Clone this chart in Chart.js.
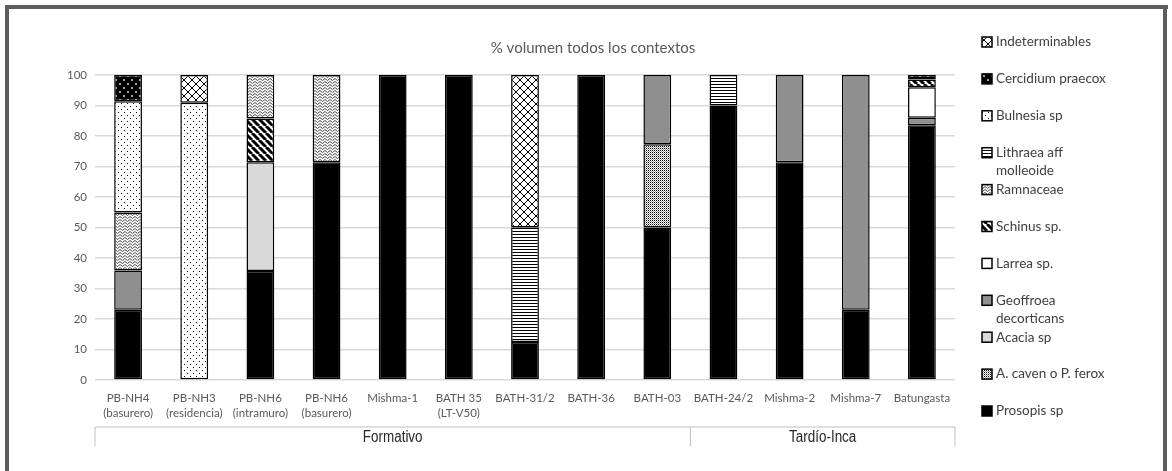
<!DOCTYPE html>
<html>
<head>
<meta charset="utf-8">
<script src="https://cdn.jsdelivr.net/npm/chart.js@4.4.0/dist/chart.umd.min.js"></script>
<style>
  html, body { margin: 0; background: #fff; }
  #wrap { width: 1172px; height: 471px; position: relative; }
</style>
</head>
<body>
<div id="wrap"><canvas id="chart"></canvas></div>
<script>
  // ---- data ----
  const TITLE = '% volumen todos los contextos';
  const CATEGORIES = [
    ['PB-NH4', '(basurero)'], ['PB-NH3', '(residencia)'], ['PB-NH6', '(intramuro)'],
    ['PB-NH6', '(basurero)'], 'Mishma-1', ['BATH 35', '(LT-V50)'], 'BATH-31/2',
    'BATH-36', 'BATH-03', 'BATH-24/2', 'Mishma-2', 'Mishma-7', 'Batungasta'
  ];
  const GROUPS = ['Formativo', 'Tardío-Inca'];
  const GROUP_SIZES = [9, 4];
  const Y_MAX = 100;
  const Y_STEP = 10;

  // series, bottom of the stack first
  const SERIES_NAMES = [
    'Prosopis sp', 'A. caven o P. ferox', 'Acacia sp', 'Geoffroea\ndecorticans', 'Larrea sp.',
    'Schinus sp.', 'Ramnaceae', 'Lithraea aff\nmolleoide', 'Bulnesia sp', 'Cercidium praecox', 'Indeterminables'
  ];
  const PROSOPIS     = [23, null, 35.7, 71.4, 100, 100, 12.5, 100, 50, 90, 71.4, 23, 83.5];
  const A_CAVEN      = [null, null, null, null, null, null, null, null, 27.3, null, null, null, null];
  const ACACIA       = [null, null, 35.7, null, null, null, null, null, null, null, null, null, null];
  const GEOFFROEA    = [12.9, null, null, null, null, null, null, null, 22.7, null, 28.6, 77, 2.5];
  const LARREA       = [null, null, null, null, null, null, null, null, null, null, null, null, 10];
  const SCHINUS      = [null, null, 14.3, null, null, null, null, null, null, null, null, null, 2.5];
  const RAMNACEAE    = [19, null, 14.3, 28.6, null, null, null, null, null, null, null, null, null];
  const LITHRAEA     = [null, null, null, null, null, null, 37.5, null, null, 10, null, null, null];
  const BULNESIA     = [36.5, 90.9, null, null, null, null, null, null, null, null, null, null, null];
  const CERCIDIUM    = [8.6, null, null, null, null, null, null, null, null, null, null, null, 1.5];
  const INDET        = [null, 9.1, null, null, null, null, 50, null, null, null, null, null, null];
  const SERIES_VALUES = [PROSOPIS, A_CAVEN, ACACIA, GEOFFROEA, LARREA, SCHINUS, RAMNACEAE,
    LITHRAEA, BULNESIA, CERCIDIUM, INDET];

  // ---- fill patterns ----
  function makePattern(w, h, draw) {
    const c = document.createElement('canvas');
    c.width = w; c.height = h;
    const g = c.getContext('2d');
    g.fillStyle = '#fff';
    g.fillRect(0, 0, w, h);
    draw(g, w, h);
    return g.createPattern(c, 'repeat');
  }

  const FILLS = [
    '#000000',
    // dense dots
    makePattern(2, 2, (g) => { g.fillStyle = '#000'; g.fillRect(0, 0, 1, 1); g.fillStyle = '#9a9a9a'; g.fillRect(1, 1, 1, 1); }),
    '#d9d9d9',
    '#8f8f8f',
    '#ffffff',
    // wide diagonal stripes
    makePattern(7, 7, (g, s) => {
      g.strokeStyle = '#000'; g.lineWidth = 3;
      for (let k = -2; k <= 2; k++) { g.beginPath(); g.moveTo(k * s, 0); g.lineTo(k * s + s, s); g.stroke(); }
    }),
    // fine zigzag waves
    makePattern(5, 3, (g) => {
      g.strokeStyle = '#333'; g.lineWidth = 0.9;
      g.beginPath(); g.moveTo(0, 0.5); g.lineTo(2.5, 2.5); g.lineTo(5, 0.5); g.stroke();
    }),
    // horizontal lines
    makePattern(4, 3, (g) => { g.fillStyle = '#000'; g.fillRect(0, 0, 4, 1); }),
    // sparse dots
    makePattern(6, 6, (g) => { g.fillStyle = '#000'; g.fillRect(1, 1, 1, 1); g.fillRect(4, 4, 1, 1); }),
    // large black dots
    makePattern(8, 8, (g) => {
      g.fillStyle = '#000';
      [[4, 4], [0, 0], [8, 0], [0, 8], [8, 8]].forEach(([x, y]) => {
        g.beginPath(); g.arc(x, y, 3.3, 0, Math.PI * 2); g.fill();
      });
    }),
    // diagonal cross-hatch
    makePattern(8, 8, (g, s) => {
      g.strokeStyle = '#000'; g.lineWidth = 1;
      for (let k = -2; k <= 2; k++) {
        g.beginPath(); g.moveTo(k * s, 0); g.lineTo(k * s + s, s); g.stroke();
        g.beginPath(); g.moveTo(k * s + s, 0); g.lineTo(k * s, s); g.stroke();
      }
    })
  ];

  // ---- frame, title, legend, group brackets ----
  const decor = {
    id: 'decor',
    beforeDraw(chart) {
      const ctx = chart.ctx;
      ctx.save();
      ctx.fillStyle = '#fff';
      ctx.fillRect(0, 0, chart.width, chart.height);
      ctx.fillStyle = '#5e5e5e';
      ctx.fillRect(5, 5, 1163, 4);
      ctx.fillRect(5, 5, 4, chart.height);
      ctx.fillRect(1163, 5, 4, chart.height);
      ctx.restore();
    },
    afterDraw(chart) {
      const ctx = chart.ctx;
      const x = chart.scales.x;
      ctx.save();
      // title
      ctx.fillStyle = '#595959';
      ctx.font = '15px Lato';
      ctx.textAlign = 'center';
      ctx.textBaseline = 'middle';
      ctx.fillText(TITLE, 593, 48);

      // legend, top item = last series
      ctx.textAlign = 'left';
      ctx.font = '13.5px Lato';
      for (let i = 0; i < SERIES_NAMES.length; i++) {
        const si = SERIES_NAMES.length - 1 - i;
        const y = 42 + i * 36.9;
        ctx.fillStyle = FILLS[si];
        ctx.fillRect(982, y - 5, 10, 10);
        ctx.strokeStyle = '#000';
        ctx.lineWidth = 1.5;
        ctx.strokeRect(982, y - 5, 10, 10);
        ctx.fillStyle = '#404040';
        SERIES_NAMES[si].split('\n').forEach((line, j) => ctx.fillText(line, 996, y + j * 18));
      }

      // group brackets under the categories
      const half = (x.getPixelForValue(1) - x.getPixelForValue(0)) / 2;
      const yTop = 427, yBot = 446;
      ctx.strokeStyle = '#bfbfbf';
      ctx.lineWidth = 1;
      let start = 0;
      const edges = [x.getPixelForValue(0) - half];
      GROUP_SIZES.forEach((n) => { start += n; edges.push(x.getPixelForValue(start - 1) + half); });
      ctx.beginPath();
      ctx.moveTo(edges[0], yTop); ctx.lineTo(edges[edges.length - 1], yTop);
      edges.forEach((ex) => { ctx.moveTo(ex, yTop); ctx.lineTo(ex, yBot); });
      ctx.stroke();
      // condensed look like the original narrow font
      ctx.fillStyle = '#262626';
      ctx.font = '16px "Liberation Sans", sans-serif';
      ctx.textAlign = 'center';
      GROUPS.forEach((name, i) => {
        const cx = (edges[i] + edges[i + 1]) / 2;
        ctx.save();
        ctx.translate(cx, 438);
        ctx.scale(0.84, 1);
        ctx.fillText(name, 0, 0);
        ctx.restore();
      });
      ctx.restore();
    }
  };

  new Chart(document.getElementById('chart'), {
    type: 'bar',
    data: {
      labels: CATEGORIES,
      datasets: SERIES_NAMES.map((name, i) => ({
        label: name.replace('\n', ' '),
        data: SERIES_VALUES[i],
        backgroundColor: FILLS[i],
        borderColor: '#000',
        borderWidth: 1.5,
        borderSkipped: false,
        categoryPercentage: 1,
        barPercentage: 0.42
      }))
    },
    options: {
      responsive: true,
      maintainAspectRatio: false,
      animation: false,
      layout: { padding: { top: 75, right: 217, bottom: 0, left: 55 } },
      plugins: { legend: { display: false }, tooltip: { enabled: false }, title: { display: false } },
      scales: {
        x: {
          stacked: true,
          afterFit: (s) => { s.height = 91; },
          grid: { display: false },
          border: { display: false },
          ticks: { color: '#595959', font: { family: 'Lato', size: 11.5, lineHeight: 1.3 }, padding: 3, maxRotation: 0, autoSkip: false }
        },
        y: {
          stacked: true,
          min: 0,
          max: Y_MAX,
          afterFit: (s) => { s.width = 40; },
          grid: { color: '#d9d9d9', lineWidth: 1.5, drawTicks: false },
          border: { display: false },
          ticks: { stepSize: Y_STEP, color: '#595959', font: { family: 'Lato', size: 11.5 }, padding: 8 }
        }
      }
    },
    plugins: [decor]
  });
</script>
</body>
</html>
